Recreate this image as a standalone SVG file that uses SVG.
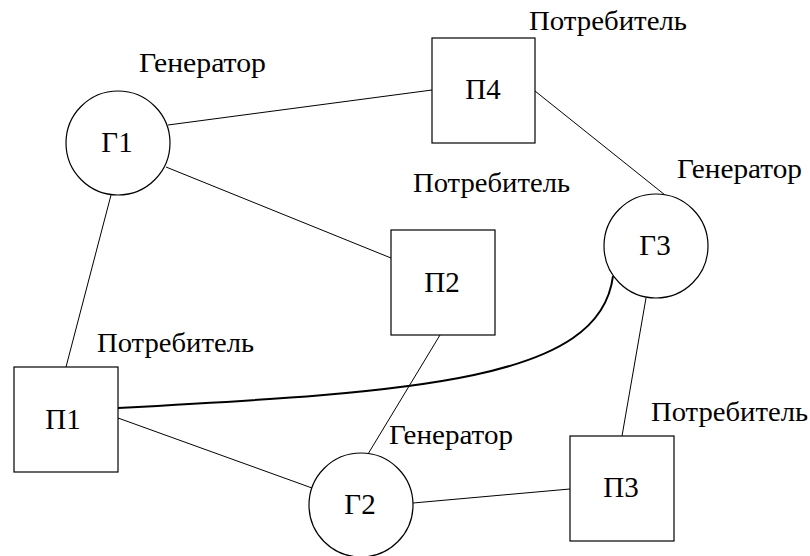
<svg xmlns="http://www.w3.org/2000/svg" width="810" height="556" viewBox="0 0 810 556">
<style>
.n{fill:#fff;stroke:#000;stroke-width:1.2}
.c{fill:none;stroke:#000;stroke-width:1}
text{fill:#000}
.t{font-size:29px;text-anchor:middle}
.l{font-size:27px}
</style>
<rect width="810" height="556" fill="#fff"/>
<g id="connectors">
<line class="c" x1="168" y1="125" x2="432" y2="90"/>
<line class="c" x1="166" y1="167" x2="391" y2="258"/>
<line class="c" x1="111" y1="195" x2="66" y2="367"/>
<line class="c" x1="535" y1="91" x2="665" y2="195"/>
<line class="c" x1="646" y1="298" x2="622" y2="436"/>
<line class="c" x1="440" y1="335" x2="368" y2="454"/>
<line class="c" x1="413" y1="503" x2="570" y2="489"/>
<line class="c" x1="118" y1="418" x2="312" y2="488"/>
<path class="c" style="stroke-width:2" d="M118,408 C420,392 600,380 613,276"/>
</g>
<g font-family="Liberation Serif, DejaVu Serif, serif">
<g id="G1"><circle class="n" cx="118" cy="143" r="52"/><text class="t" x="117" y="152">Г1</text></g>
<g id="G2"><circle class="n" cx="361" cy="505" r="52"/><text class="t" x="360" y="514">Г2</text></g>
<g id="G3"><circle class="n" cx="656" cy="246" r="52"/><text class="t" x="655" y="255">Г3</text></g>
<g id="P1"><rect class="n" x="14" y="367" width="104" height="105"/><text class="t" x="63" y="429">П1</text></g>
<g id="P2"><rect class="n" x="391" y="230" width="104" height="105"/><text class="t" x="442" y="292">П2</text></g>
<g id="P3"><rect class="n" x="570" y="436" width="104" height="105"/><text class="t" x="621" y="497">П3</text></g>
<g id="P4"><rect class="n" x="432" y="38" width="103" height="105"/><text class="t" x="483" y="99">П4</text></g>
<g id="labels">
<text class="l" x="139" y="72" textLength="127" lengthAdjust="spacingAndGlyphs">Генератор</text>
<text class="l" x="677" y="178" textLength="125" lengthAdjust="spacingAndGlyphs">Генератор</text>
<text class="l" x="389" y="444" textLength="124" lengthAdjust="spacingAndGlyphs">Генератор</text>
<text class="l" x="529" y="30" textLength="158" lengthAdjust="spacingAndGlyphs">Потребитель</text>
<text class="l" x="413" y="192" textLength="157" lengthAdjust="spacingAndGlyphs">Потребитель</text>
<text class="l" x="97" y="352" textLength="157" lengthAdjust="spacingAndGlyphs">Потребитель</text>
<text class="l" x="651" y="421" textLength="157" lengthAdjust="spacingAndGlyphs">Потребитель</text>
</g>
</g>
</svg>
